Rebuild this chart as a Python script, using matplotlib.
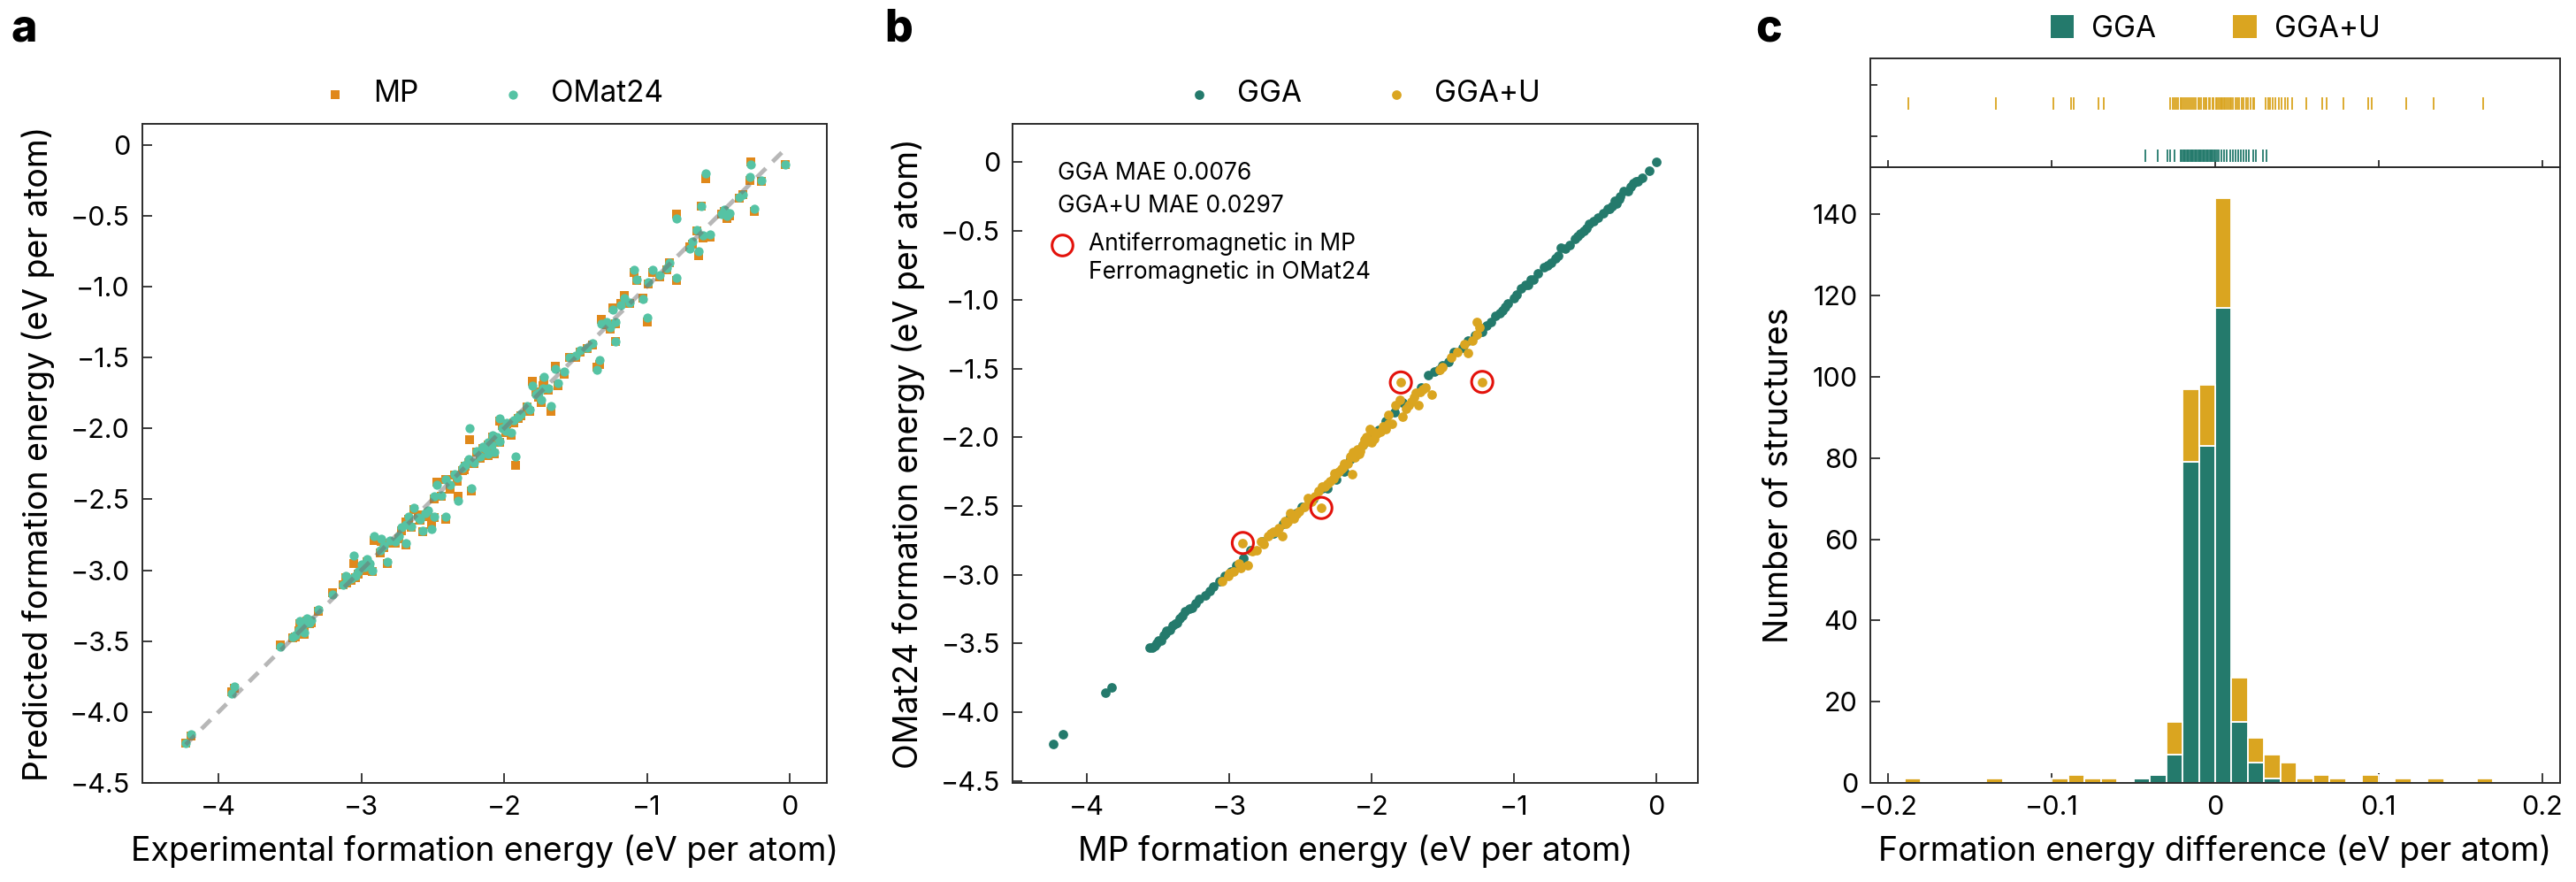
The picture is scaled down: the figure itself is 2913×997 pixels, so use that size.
import matplotlib
matplotlib.use('Agg')
import matplotlib.pyplot as plt
from matplotlib.patches import Patch
from matplotlib.ticker import FuncFormatter

plt.rcParams['font.family'] = ['Inter', 'DejaVu Sans']
plt.rcParams['axes.unicode_minus'] = True

# ---------------- data ----------------
# Panel a: experimental vs predicted formation energy (eV/atom)
exp_energy = [-0.03, -0.27, -0.28, -0.20, -0.33, -0.25, -0.42, -0.44, -0.48, -0.59,
              -0.62, -0.65, -0.61, -0.56, -0.64, -0.68, -0.79, -0.79, -0.84, -0.86,
              -0.96, -0.99, -1.09, -1.07, -1.03, -1.00, -1.16, -1.18, -1.24, -1.22,
              -1.26, -1.32, -1.22, -1.33, -1.35, -1.42, -1.47, -1.54, -1.64, -1.62,
              -1.72, -1.73, -1.80, -1.78, -1.84, -1.88, -1.74, -1.67, -1.93, -1.95,
              -2.01, -2.05, -2.09, -2.13, -2.07, -2.03, -1.92, -2.24, -2.19, -2.25,
              -2.29, -2.35, -2.23, -2.32, -2.41, -2.47, -2.49, -2.53, -2.41, -2.49,
              -2.51, -2.57, -2.63, -2.69, -2.72, -2.76, -2.69, -2.67, -2.86, -2.91,
              -2.87, -2.82, -2.92, -2.96, -3.00, -3.05, -3.04, -3.11, -3.10, -3.13,
              -3.20, -3.30, -3.38, -3.40, -3.44, -3.40, -3.46, -3.36, -3.57, -3.91,
              -3.89, -4.19, -4.23, -2.11, -2.15, -1.98, -2.60, -2.28,
              -0.35, -0.46, -0.70, -0.91, -1.12, -1.28, -1.38, -1.50, -1.58, -1.69,
              -1.76, -1.82, -1.90, -1.99, -2.03, -2.08, -2.11, -2.17, -2.21, -2.27,
              -2.33, -2.38, -2.44, -2.55, -2.59, -2.65, -2.74, -2.80, -2.84, -2.94,
              -2.98, -3.02, -3.07, -3.35, -3.42, -3.48, -3.43]
omat_pred = [-0.14, -0.14, -0.23, -0.25, -0.35, -0.45, -0.48, -0.50, -0.49, -0.20,
             -0.43, -0.60, -0.64, -0.63, -0.75, -0.68, -0.52, -0.94, -0.83, -0.87,
             -0.88, -0.97, -0.88, -0.95, -1.09, -1.22, -1.08, -1.13, -1.16, -1.25,
             -1.29, -1.26, -1.39, -1.52, -1.59, -1.43, -1.45, -1.50, -1.58, -1.68,
             -1.64, -1.72, -1.70, -1.76, -1.84, -1.90, -1.80, -1.84, -1.94, -2.03,
             -2.00, -2.06, -2.12, -2.14, -2.17, -1.93, -2.20, -2.00, -2.16, -2.22,
             -2.28, -2.32, -2.42, -2.51, -2.36, -2.40, -2.48, -2.58, -2.62, -2.62,
             -2.71, -2.72, -2.56, -2.68, -2.70, -2.80, -2.81, -2.62, -2.78, -2.76,
             -2.86, -2.94, -3.00, -2.92, -2.96, -2.90, -3.04, -3.04, -3.08, -3.10,
             -3.17, -3.28, -3.34, -3.38, -3.42, -3.44, -3.46, -3.37, -3.54, -3.87,
             -3.82, -4.16, -4.22, -2.10, -2.13, -1.96, -2.63, -2.26,
             -0.37, -0.46, -0.73, -0.92, -1.11, -1.25, -1.40, -1.49, -1.60, -1.72,
             -1.75, -1.87, -1.92, -2.02, -2.09, -2.05, -2.18, -2.20, -2.24, -2.26,
             -2.35, -2.40, -2.47, -2.60, -2.64, -2.69, -2.76, -2.79, -2.83, -2.95,
             -2.98, -3.01, -3.06, -3.35, -3.40, -3.47, -3.36]
mp_pred = [-0.14, -0.12, -0.25, -0.26, -0.35, -0.47, -0.50, -0.52, -0.49, -0.24,
           -0.43, -0.61, -0.66, -0.65, -0.78, -0.70, -0.49, -0.96, -0.83, -0.88,
           -0.90, -0.98, -0.90, -0.96, -1.08, -1.25, -1.06, -1.12, -1.15, -1.26,
           -1.30, -1.23, -1.39, -1.55, -1.57, -1.44, -1.46, -1.50, -1.56, -1.70,
           -1.66, -1.70, -1.67, -1.74, -1.85, -1.91, -1.82, -1.88, -1.96, -2.05,
           -1.98, -2.08, -2.13, -2.16, -2.18, -1.95, -2.26, -2.08, -2.17, -2.24,
           -2.30, -2.33, -2.44, -2.48, -2.36, -2.38, -2.50, -2.60, -2.64, -2.63,
           -2.68, -2.73, -2.57, -2.66, -2.72, -2.81, -2.82, -2.64, -2.80, -2.79,
           -2.88, -2.95, -3.01, -2.94, -2.98, -2.95, -3.05, -3.05, -3.09, -3.10,
           -3.16, -3.29, -3.36, -3.39, -3.43, -3.45, -3.47, -3.38, -3.53, -3.86,
           -3.83, -4.17, -4.22, -2.12, -2.14, -1.97, -2.61, -2.29,
           -0.38, -0.47, -0.72, -0.93, -1.12, -1.27, -1.41, -1.50, -1.62, -1.73,
           -1.78, -1.88, -1.93, -2.03, -2.10, -2.06, -2.19, -2.21, -2.25, -2.27,
           -2.37, -2.43, -2.48, -2.62, -2.65, -2.70, -2.78, -2.81, -2.84, -2.97,
           -3.00, -3.03, -3.07, -3.37, -3.41, -3.48, -3.38]

# Panel b: MP vs OMat24 formation energy, split by GGA / GGA+U
gga_mp = [0.00, -0.13, -0.16, -0.23, -0.25, -0.28, -0.31, -0.37, -0.41, -0.47,
          -0.51, -0.57, -0.61, -0.67, -0.71, -0.79, -0.83, -0.88, -0.92, -0.95,
          -1.00, -1.08, -1.10, -1.16, -1.22, -1.32, -1.42, -1.46, -1.56, -1.60,
          -1.78, -1.84, -1.90, -1.98, -2.06, -2.10, -2.19, -2.25, -2.31, -2.41,
          -2.49, -2.57, -2.69, -2.77, -2.85, -2.90, -2.95, -3.03, -3.11, -3.17,
          -3.21, -3.31, -3.35, -3.38, -3.42, -3.46, -3.48, -3.52, -3.56, -3.83,
          -3.87, -4.17, -4.24, -0.14, -0.20, -0.26, -0.34, -0.53, -0.74, -0.98,
          -1.04, -1.13, -1.27, -3.33, -3.40, -3.44, -3.50, -3.28, -3.24, -1.50,
          -0.05, -0.10, -0.18, -0.29, -0.33, -0.44, -0.49, -0.55, -0.64, -0.69,
          -0.76, -0.86, -0.90, -1.06, -1.19, -1.36, -1.53, -1.65, -1.95, -2.15,
          -2.35, -2.53, -2.62, -2.99, -3.07, -3.14, -3.26, -3.37, -3.45, -3.51,
          -3.54]
gga_omat = [0.00, -0.14, -0.15, -0.21, -0.25, -0.30, -0.32, -0.37, -0.40, -0.45,
            -0.50, -0.56, -0.60, -0.62, -0.70, -0.76, -0.81, -0.85, -0.89, -0.92,
            -0.99, -1.08, -1.10, -1.16, -1.23, -1.30, -1.38, -1.45, -1.52, -1.55,
            -1.75, -1.82, -1.88, -1.98, -2.06, -2.12, -2.25, -2.31, -2.37, -2.45,
            -2.51, -2.58, -2.70, -2.76, -2.82, -2.88, -2.93, -3.01, -3.09, -3.15,
            -3.18, -3.27, -3.32, -3.36, -3.40, -3.44, -3.48, -3.52, -3.53, -3.82,
            -3.86, -4.16, -4.23, -0.14, -0.21, -0.27, -0.34, -0.52, -0.73, -0.96,
            -1.03, -1.12, -1.26, -3.30, -3.37, -3.41, -3.48, -3.25, -3.21, -1.48,
            -0.06, -0.11, -0.18, -0.28, -0.34, -0.43, -0.48, -0.54, -0.63, -0.68,
            -0.75, -0.85, -0.89, -1.05, -1.19, -1.35, -1.51, -1.64, -1.95, -2.16,
            -2.37, -2.55, -2.63, -2.98, -3.05, -3.12, -3.24, -3.35, -3.43, -3.50,
            -3.53]
ggau_mp = [-3.05, -3.01, -2.97, -2.87, -2.905, -2.81, -2.73, -2.69, -2.65, -2.63,
           -2.59, -2.55, -2.51, -2.47, -2.353, -2.37, -2.31, -2.27, -2.23, -2.19,
           -2.15, -2.135, -2.10, -2.06, -2.04, -2.01, -1.94, -1.90, -1.86, -1.83,
           -1.80, -1.78, -1.74, -1.70, -1.67, -1.64, -1.58, -1.52, -1.50, -1.794,
           -1.40, -1.35, -1.32, -1.26, -1.24, -1.26, -1.222, -2.44, -2.40, -2.33,
           -2.29, -2.25, -2.21, -2.17, -2.12, -2.08, -2.02, -1.98, -1.96, -2.60,
           -2.67, -2.76, -2.92, -1.88, -1.72, -2.00,
           -2.93, -2.84, -2.78, -2.71, -2.61, -2.57, -2.53, -2.45, -2.42, -2.35,
           -2.26, -2.20, -2.13, -2.09, -2.05, -1.99, -1.92, -1.88, -1.76, -1.69,
           -1.66, -1.62, -1.44, -1.29, -3.00]
ggau_omat = [-3.05, -3.01, -2.98, -2.93, -2.77, -2.82, -2.72, -2.69, -2.66, -2.72,
             -2.62, -2.59, -2.54, -2.51, -2.515, -2.39, -2.34, -2.30, -2.25, -2.19,
             -2.14, -2.27, -2.09, -2.06, -2.00, -1.94, -1.96, -1.94, -1.90, -1.77,
             -1.73, -1.85, -1.77, -1.71, -1.77, -1.65, -1.69, -1.51, -1.49, -1.602,
             -1.38, -1.32, -1.385, -1.25, -1.20, -1.16, -1.598, -2.46, -2.43, -2.36,
             -2.32, -2.27, -2.23, -2.19, -2.15, -2.10, -2.03, -2.01, -1.97, -2.63,
             -2.69, -2.78, -2.95, -1.90, -1.74, -2.04,
             -2.92, -2.83, -2.76, -2.70, -2.61, -2.55, -2.56, -2.44, -2.47, -2.36,
             -2.26, -2.22, -2.11, -2.12, -2.02, -1.96, -1.92, -1.84, -1.79, -1.68,
             -1.67, -1.64, -1.42, -1.30, -2.99]
# structures that are AFM in MP but FM in OMat24
flip_mp = [-2.905, -2.353, -1.794, -1.222]
flip_omat = [-2.77, -2.515, -1.602, -1.598]

gga_mae_text = 'GGA MAE 0.0076'
ggau_mae_text = 'GGA+U MAE 0.0297'

# Panel c: histogram of formation energy differences (bin left edges, width 0.01)
bin_left = [-0.19, -0.14, -0.10, -0.09, -0.08, -0.07, -0.05, -0.04, -0.03, -0.02,
            -0.01, 0.00, 0.01, 0.02, 0.03, 0.04, 0.05, 0.06, 0.07, 0.09,
            0.11, 0.13, 0.16]
count_gga = [0, 0, 0, 0, 0, 0, 1, 2, 7, 79,
             83, 117, 15, 5, 1, 0, 0, 0, 0, 0,
             0, 0, 0]
count_ggau = [1, 1, 1, 2, 1, 1, 0, 0, 8, 18,
              15, 27, 11, 6, 6, 5, 1, 2, 1, 2,
              1, 1, 1]
bin_width = 0.01

rug_ggau = [-0.188, -0.134, -0.099, -0.088, -0.0864, -0.0714, -0.0684,
            -0.0276, -0.0262, -0.025, -0.0238, -0.0225, -0.0212, -0.0205, -0.0195,
            -0.0185, -0.0172, -0.016, -0.0151, -0.014, -0.013, -0.0118, -0.0105,
            -0.0095, -0.0085, -0.0072, -0.006, -0.0052, -0.004, -0.003, -0.0018,
            -0.001, 0.0005, 0.0012, 0.002, 0.003, 0.0038, 0.0045, 0.0055, 0.0062,
            0.0072, 0.008, 0.009, 0.0098, 0.0108, 0.0122, 0.0135, 0.0148, 0.0162,
            0.0175, 0.0188, 0.02, 0.0215, 0.0232, 0.024,
            0.0306, 0.0322, 0.0338, 0.0352, 0.037, 0.039, 0.0405, 0.0425, 0.0445, 0.047,
            0.0555, 0.0654, 0.068, 0.0787, 0.0937, 0.096, 0.117, 0.1336, 0.164]
rug_gga = [-0.0425, -0.0352, -0.0292, -0.0276, -0.0249,
           -0.021, -0.0203, -0.0196, -0.0189, -0.0182, -0.0175, -0.0168, -0.0161,
           -0.0154, -0.0147, -0.014, -0.0133, -0.0126, -0.0119, -0.0112, -0.0105,
           -0.0098, -0.0091, -0.0084, -0.0077, -0.007, -0.0063, -0.0056, -0.0049,
           -0.0042, -0.0035, -0.0028, -0.0021, -0.0014, -0.0007, 0.0, 0.001,
           0.0023, 0.004, 0.0056, 0.0073, 0.009, 0.0106, 0.0123, 0.014, 0.0156,
           0.0173, 0.019, 0.0206, 0.023, 0.025, 0.029, 0.0316]

# ---------------- style ----------------
C_MP = '#E0881A'
C_OMAT = '#55C3A4'
C_GGA = '#247A6C'
C_GGAU = '#DAA520'
SPINE = '#2b2b2b'
TICK_FS = 22
LABEL_FS = 27
LEG_FS = 24


def fmt_num(v, _pos=None):
    if abs(v) < 1e-9:
        return '0'
    s = ('%g' % round(v, 3))
    return s.replace('-', '\u2212')


def fmt_one(v, _pos=None):
    if abs(v) < 1e-9:
        return '0'
    return ('%.1f' % v).replace('-', '\u2212')


def style_axes(ax):
    for sp in ax.spines.values():
        sp.set_linewidth(1.4)
        sp.set_color(SPINE)
    ax.tick_params(direction='in', length=8, width=1.3, labelsize=TICK_FS,
                   pad=10, colors=SPINE, labelcolor='black')


fig = plt.figure(figsize=(29.13, 9.97), dpi=100)
W, H = 2913.0, 997.0

# ---------------- panel a ----------------
axA = fig.add_axes([161 / W, 1 - 885 / H, 774 / W, 745 / H])
axA.scatter(exp_energy, mp_pred, marker='s', s=48, color=C_MP, linewidths=0,
            label='MP', zorder=2)
axA.scatter(exp_energy, omat_pred, marker='o', s=55, color=C_OMAT, linewidths=0,
            label='OMat24', zorder=3)
lo, hi = min(exp_energy), max(exp_energy)
axA.plot([lo, hi], [lo, hi], ls=(0, (3, 2.2)), lw=3.5, color='#707070', alpha=0.5,
         zorder=4)
axA.set_xlim(-4.533, 0.26)
axA.set_ylim(-4.5, 0.147)
axA.set_xticks([-4, -3, -2, -1, 0])
axA.set_yticks([-4.5, -4.0, -3.5, -3.0, -2.5, -2.0, -1.5, -1.0, -0.5, 0])
axA.xaxis.set_major_formatter(FuncFormatter(fmt_num))
axA.yaxis.set_major_formatter(FuncFormatter(fmt_one))
style_axes(axA)
axA.set_xlabel('Experimental formation energy (eV per atom)', fontsize=LABEL_FS, labelpad=12)
axA.set_ylabel('Predicted formation energy (eV per atom)', fontsize=LABEL_FS, labelpad=12)
axA.legend(loc='center', bbox_to_anchor=(0.5, 1.045), ncol=2, frameon=False,
           fontsize=LEG_FS, handletextpad=0.3, columnspacing=2.2, markerscale=1.0,
           borderaxespad=0)

# ---------------- panel b ----------------
axB = fig.add_axes([1145 / W, 1 - 885 / H, 775 / W, 745 / H])
axB.scatter(gga_mp, gga_omat, s=60, color=C_GGA, linewidths=0, label='GGA', zorder=2)
axB.scatter(ggau_mp, ggau_omat, s=60, color=C_GGAU, linewidths=0, label='GGA+U', zorder=3)
axB.scatter(flip_mp, flip_omat, s=300, facecolors='none', edgecolors='#E3120B',
            linewidths=2.2, zorder=4)
axB.set_xlim(-4.524, 0.294)
axB.set_ylim(-4.516, 0.28)
axB.set_xticks([-4, -3, -2, -1, 0])
axB.set_yticks([-4.5, -4.0, -3.5, -3.0, -2.5, -2.0, -1.5, -1.0, -0.5, 0])
axB.xaxis.set_major_formatter(FuncFormatter(fmt_num))
axB.yaxis.set_major_formatter(FuncFormatter(fmt_one))
style_axes(axB)
axB.set_xlabel('MP formation energy (eV per atom)', fontsize=LABEL_FS, labelpad=12)
axB.set_ylabel('OMat24 formation energy (eV per atom)', fontsize=LABEL_FS, labelpad=12)
axB.legend(loc='center', bbox_to_anchor=(0.5, 1.045), ncol=2, frameon=False,
           fontsize=LEG_FS, handletextpad=0.3, columnspacing=2.2, borderaxespad=0)
axB.text(0.066, 0.925, gga_mae_text, transform=axB.transAxes, fontsize=19, va='center')
axB.text(0.066, 0.875, ggau_mae_text, transform=axB.transAxes, fontsize=19, va='center')
axB.plot([0.0717], [0.816], transform=axB.transAxes, marker='o', ms=17, mfc='none',
         mec='#E3120B', mew=2.2, ls='none', clip_on=False)
axB.text(0.111, 0.8175, 'Antiferromagnetic in MP', transform=axB.transAxes,
         fontsize=19, va='center')
axB.text(0.111, 0.775, 'Ferromagnetic in OMat24', transform=axB.transAxes,
         fontsize=19, va='center')

# ---------------- panel c ----------------
axC = fig.add_axes([2115 / W, 1 - 885 / H, 780 / W, (885 - 189) / H])
axR = fig.add_axes([2115 / W, 1 - 189 / H, 780 / W, (189 - 66) / H], sharex=axC)

axC.bar(bin_left, count_gga, width=bin_width, align='edge', color=C_GGA,
        edgecolor='white', linewidth=1.3, label='GGA', zorder=2)
axC.bar(bin_left, count_ggau, width=bin_width, align='edge', bottom=count_gga,
        color=C_GGAU, edgecolor='white', linewidth=1.3, label='GGA+U', zorder=2)
axC.set_xlim(-0.211, 0.211)
axC.set_ylim(0, 151.6)
axC.set_xticks([-0.2, -0.1, 0, 0.1, 0.2])
axC.set_yticks([0, 20, 40, 60, 80, 100, 120, 140])
axC.xaxis.set_major_formatter(FuncFormatter(fmt_num))
style_axes(axC)
axC.set_xlabel('Formation energy difference (eV per atom)', fontsize=LABEL_FS, labelpad=12)
axC.set_ylabel('Number of structures', fontsize=LABEL_FS, labelpad=14)

axR.eventplot([rug_ggau, rug_gga], orientation='horizontal', lineoffsets=[0.583, 0.109],
              linelengths=[0.115, 0.115], linewidths=1.3, colors=[C_GGAU, C_GGA])
axR.set_ylim(0, 1)
axR.set_yticks([0.286, 0.755])
style_axes(axR)
axR.tick_params(labelleft=False, labelbottom=False, length=6)

handles = [Patch(facecolor=C_GGA, edgecolor='none'), Patch(facecolor=C_GGAU, edgecolor='none')]
axR.legend(handles, ['GGA', 'GGA+U'], loc='center', bbox_to_anchor=(0.5, 1.27), ncol=2,
           frameon=False, fontsize=LEG_FS, handlelength=0.8, handleheight=0.8,
           handletextpad=0.6, columnspacing=2.6, borderaxespad=0)

# panel letters
for x, lab in [(13, 'a'), (1000, 'b'), (1985, 'c')]:
    fig.text(x / W, 1 - 33 / H, lab, fontsize=36, fontweight='heavy', va='center', ha='left')

fig.savefig('out.png', dpi=100)
